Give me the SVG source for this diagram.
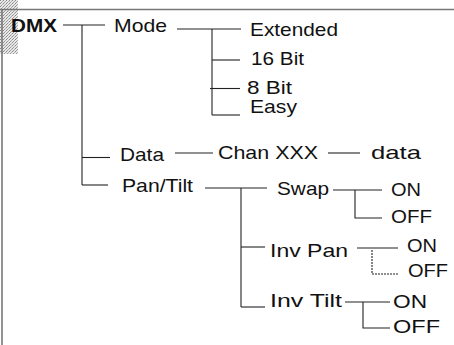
<svg xmlns="http://www.w3.org/2000/svg" width="454" height="345" viewBox="0 0 454 345">
<defs>
<pattern id="dots" width="3" height="3" patternUnits="userSpaceOnUse">
<rect width="3" height="3" fill="#e8e8e8"/>
<rect x="0" y="0" width="1" height="1" fill="#888"/>
<rect x="2" y="1" width="1" height="1" fill="#aaa"/>
<rect x="1" y="2" width="1" height="1" fill="#999"/>
</pattern>
</defs>
<style>
text{font-family:"Liberation Sans",Arial,sans-serif;font-size:19px;fill:#111}
.b{font-weight:bold}
.c line,.c polyline{stroke:#222;stroke-width:1.1;fill:none}
.frame{stroke:#777;stroke-width:1.6;fill:none}
</style>
<rect x="0" y="0" width="18" height="54" fill="url(#dots)"/>
<line class="frame" x1="0" y1="9.5" x2="454" y2="9.5"/>
<line class="frame" x1="2" y1="9.5" x2="2" y2="345"/>
<g class="c" id="connectors">
<line x1="63" y1="25" x2="105" y2="25"/>
<line x1="82" y1="25" x2="82" y2="185"/>
<line x1="82" y1="157.5" x2="110" y2="157.5"/>
<line x1="82" y1="185" x2="108" y2="185"/>
<line x1="177" y1="29" x2="241" y2="29"/>
<line x1="212" y1="29" x2="212" y2="115"/>
<line x1="212" y1="60" x2="240" y2="60"/>
<line x1="210" y1="88.5" x2="240" y2="88.5"/>
<line x1="212" y1="115" x2="240" y2="115"/>
<line x1="175" y1="153" x2="213" y2="153"/>
<line x1="328" y1="153" x2="360" y2="153"/>
<line x1="205" y1="188" x2="267" y2="188"/>
<line x1="241" y1="188" x2="241" y2="307"/>
<line x1="241" y1="247" x2="265" y2="247"/>
<line x1="241" y1="307" x2="265" y2="307"/>
<line x1="333" y1="190" x2="382" y2="190"/>
<polyline points="355,190 355,218 382,218"/>
<line x1="357" y1="248" x2="398" y2="248"/>
<polyline points="372,250 372,274 398,274" stroke-dasharray="2,1"/>
<line x1="345" y1="302" x2="390" y2="302"/>
<polyline points="363,302 363,328 390,328"/>
</g>
<g id="dmx"><text class="b" x="11" y="32" textLength="46" lengthAdjust="spacingAndGlyphs">DMX</text></g>
<g id="mode"><text x="114" y="32" textLength="53" lengthAdjust="spacingAndGlyphs">Mode</text></g>
<g id="extended"><text x="250" y="36" textLength="88" lengthAdjust="spacingAndGlyphs">Extended</text></g>
<g id="bit16"><text x="251" y="65" textLength="53" lengthAdjust="spacingAndGlyphs">16 Bit</text></g>
<g id="bit8"><text x="247" y="94" textLength="45" lengthAdjust="spacingAndGlyphs">8 Bit</text></g>
<g id="easy"><text x="250" y="113" textLength="47" lengthAdjust="spacingAndGlyphs">Easy</text></g>
<g id="data"><text x="120" y="161" textLength="44" lengthAdjust="spacingAndGlyphs">Data</text></g>
<g id="chan"><text x="218" y="159" textLength="100" lengthAdjust="spacingAndGlyphs">Chan XXX</text></g>
<g id="datav"><text x="371" y="159" textLength="50" lengthAdjust="spacingAndGlyphs">data</text></g>
<g id="pantilt"><text x="122" y="192" textLength="71" lengthAdjust="spacingAndGlyphs">Pan/Tilt</text></g>
<g id="swap"><text x="277" y="195" textLength="52" lengthAdjust="spacingAndGlyphs">Swap</text></g>
<g id="swap-on"><text x="391" y="196" textLength="30" lengthAdjust="spacingAndGlyphs">ON</text></g>
<g id="swap-off"><text x="391" y="223" textLength="41" lengthAdjust="spacingAndGlyphs">OFF</text></g>
<g id="invpan"><text x="270" y="257" textLength="78" lengthAdjust="spacingAndGlyphs">Inv Pan</text></g>
<g id="invpan-on"><text x="407" y="252" textLength="30" lengthAdjust="spacingAndGlyphs">ON</text></g>
<g id="invpan-off"><text x="408" y="277" textLength="40" lengthAdjust="spacingAndGlyphs">OFF</text></g>
<g id="invtilt"><text x="270" y="307" textLength="72" lengthAdjust="spacingAndGlyphs">Inv Tilt</text></g>
<g id="invtilt-on"><text x="393" y="308" textLength="34" lengthAdjust="spacingAndGlyphs">ON</text></g>
<g id="invtilt-off"><text x="393" y="333" textLength="47" lengthAdjust="spacingAndGlyphs">OFF</text></g>
</svg>
